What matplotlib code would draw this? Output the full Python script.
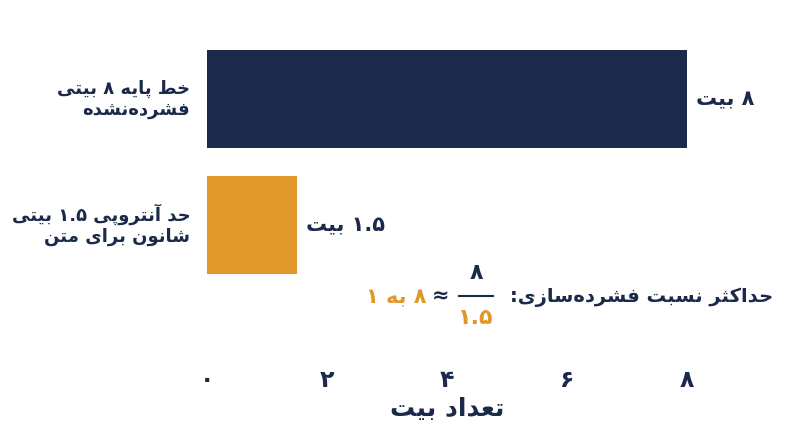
import re
import matplotlib
matplotlib.use('Agg')
import matplotlib.pyplot as plt
from matplotlib.lines import Line2D

navy = '#1b2a4a'
orange = '#e0982a'

# chart data
categories = ['خط پایه ۸ بیتی\nفشرده\u200cنشده', 'حد آنتروپی ۱.۵ بیتی\nشانون برای متن']
bits = [8, 1.5]
value_labels = ['۸ بیت', '۱.۵ بیت']
bar_colors = [navy, orange]
xticks = [0, 2, 4, 6, 8]
xtick_labels = ['۰', '۲', '۴', '۶', '۸']
xlabel = 'تعداد بیت'
note_text = 'حداکثر نسبت فشرده\u200cسازی:'
note_num = '۸'
note_den = '۱.۵'
note_ratio = '۸ به ۱'

# contextual forms: (isolated, final, initial, medial); two entries = right-joining only
FORMS = {
    'ا': '\uFE8D\uFE8E', 'آ': '\uFE81\uFE82', 'د': '\uFEA9\uFEAA',
    'ر': '\uFEAD\uFEAE', 'ز': '\uFEAF\uFEB0', 'و': '\uFEED\uFEEE',
    'ب': '\uFE8F\uFE90\uFE91\uFE92', 'ت': '\uFE95\uFE96\uFE97\uFE98',
    'ث': '\uFE99\uFE9A\uFE9B\uFE9C', 'ح': '\uFEA1\uFEA2\uFEA3\uFEA4',
    'خ': '\uFEA5\uFEA6\uFEA7\uFEA8', 'س': '\uFEB1\uFEB2\uFEB3\uFEB4',
    'ش': '\uFEB5\uFEB6\uFEB7\uFEB8', 'ط': '\uFEC1\uFEC2\uFEC3\uFEC4',
    'ع': '\uFEC9\uFECA\uFECB\uFECC', 'ف': '\uFED1\uFED2\uFED3\uFED4',
    'م': '\uFEE1\uFEE2\uFEE3\uFEE4', 'ن': '\uFEE5\uFEE6\uFEE7\uFEE8',
    'ه': '\uFEE9\uFEEA\uFEEB\uFEEC', 'پ': '\uFB56\uFB57\uFB58\uFB59',
    'ک': '\uFB8E\uFB8F\uFB90\uFB91', 'ی': '\uFBFC\uFBFD\uFBFE\uFBFF',
}


def rtl_line(line):
    out = []
    for i, c in enumerate(line):
        if c == '\u200c':
            continue
        if c not in FORMS:
            out.append(c)
            continue
        prev = line[i - 1] if i > 0 else ''
        nxt = line[i + 1] if i + 1 < len(line) else ''
        f = FORMS[c]
        jp = prev in FORMS and len(FORMS[prev]) == 4
        jn = len(f) == 4 and nxt in FORMS
        if jp and jn:
            out.append(f[3])
        elif jp:
            out.append(f[1])
        elif jn:
            out.append(f[2])
        else:
            out.append(f[0])
    tokens = re.findall(r'[0-9۰-۹]+(?:\.[0-9۰-۹]+)*|.', ''.join(out))
    return ''.join(reversed(tokens))


def rtl(s):
    return '\n'.join(rtl_line(l) for l in s.split('\n'))


plt.rcParams['font.family'] = ['DejaVu Sans']
plt.rcParams['font.weight'] = 'bold'

fig = plt.figure(figsize=(8, 4.47), dpi=100)
ax = fig.add_axes([207 / 800, 1 - 351 / 447, 480 / 800, 315 / 447])

ypos = list(range(len(bits)))
ax.barh(ypos, bits, height=0.77, color=bar_colors)
ax.set_xlim(0, 8)
ax.set_ylim(2.0, -0.5)

for y, v, lab in zip(ypos, bits, value_labels):
    ax.text(v + 0.15, y, rtl(lab), ha='left', va='center', fontsize=15,
            color=navy, fontweight='bold')
for y, cat in zip(ypos, categories):
    ax.text(-0.28, y, rtl(cat), ha='right', va='center', fontsize=13,
            color=navy, fontweight='bold', multialignment='right',
            linespacing=1.2)

ax.set_yticks([])
ax.set_xticks(xticks)
ax.set_xticklabels(xtick_labels, fontsize=17, color=navy, fontweight='bold')
ax.tick_params(axis='x', length=0, pad=12)
ax.set_xlabel(rtl(xlabel), fontsize=18, color=navy, fontweight='bold', labelpad=4)
for s in ax.spines.values():
    s.set_visible(False)


def fx(px):
    return px / 800


def fy(py):
    return 1 - py / 447


fig.text(fx(773), fy(297), rtl(note_text), ha='right', va='center',
         fontsize=14, color=navy, fontweight='bold')
fig.text(fx(476), fy(273), rtl(note_num), ha='center', va='center',
         fontsize=16, color=navy, fontweight='bold')
fig.add_artist(Line2D([fx(459), fx(493)], [fy(296), fy(296)], color=navy, lw=1.5))
fig.text(fx(476), fy(318), rtl(note_den), ha='center', va='center',
         fontsize=16, color=orange, fontweight='bold')
fig.text(fx(441), fy(296), '≈', ha='center', va='center',
         fontsize=15, color=navy, fontweight='bold')
fig.text(fx(426), fy(297), rtl(note_ratio), ha='right', va='center',
         fontsize=15, color=orange, fontweight='bold')

fig.savefig('out.png', dpi=100)
